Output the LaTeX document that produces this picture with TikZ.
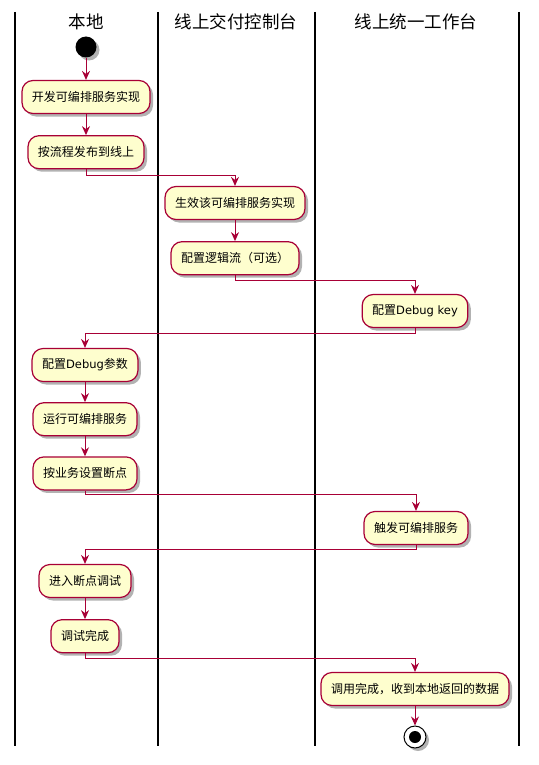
\documentclass[tikz,border=0pt]{standalone}
\usepackage{fontspec}
\setmainfont{Noto Sans CJK SC}
\newfontfamily\latfont{DejaVu Sans}
\usetikzlibrary{arrows.meta, positioning, shadows}
\definecolor{umlred}{HTML}{A80036}
\definecolor{umlyellow}{HTML}{FEFECE}

\begin{document}
\begin{tikzpicture}[x=1bp, y=-1bp,
    node distance = 21bp,
    act/.style = {draw=umlred,% border color
                  fill=umlyellow,
                  rounded corners=11bp, line width=1.2bp,
                  minimum height=33bp, inner xsep=10bp,
                  font=\fontsize{12bp}{14bp}\selectfont},
    lane/.style = {font=\fontsize{17.5bp}{20bp}\selectfont},
    flow/.style = {draw=umlred, line width=1bp,
                  -{Stealth[length=9bp,width=8bp,inset=3bp]}},
    ds/.style = {drop shadow={shadow xshift=3bp, shadow yshift=-3bp,
                  opacity=.3, fill=black}}]
%---
\useasboundingbox (0,0) rectangle (539,765);
% lanes
\foreach \x in {15,158,315,519}
    \draw[line width=2bp] (\x,12) -- (\x,746);
\node (h1) [lane] at (86,22)  {本地};
\node (h2) [lane] at (236,22) {线上交付控制台};
\node (h3) [lane] at (416,22) {线上统一工作台};
% start
\node (start) [circle, fill=black, minimum size=21bp, inner sep=0pt, ds] at (86,47) {};
% local
\node (n1) [act, ds] at (86,97)          {开发可编排服务实现};
\node (n2) [act, ds, below=of n1]        {按流程发布到线上};
% console
\node (n3) [act, ds] at (235,203)        {生效该可编排服务实现};
\node (n4) [act, ds, below=of n3]        {配置逻辑流（可选）};
% workbench
\node (n5) [act, ds] at (415,311)        {配置{\latfont\fontsize{11.5bp}{14bp}\selectfont Debug key}};
% local
\node (n6) [act, ds] at (85,365)         {配置{\latfont\fontsize{11.5bp}{14bp}\selectfont Debug}参数};
\node (n7) [act, ds, below=20bp of n6]   {运行可编排服务};
\node (n8) [act, ds, below=20bp of n7]   {按业务设置断点};
% workbench
\node (n9) [act, ds] at (416,528)        {触发可编排服务};
% local
\node (n10) [act, ds] at (85,581)        {进入断点调试};
\node (n11) [act, ds, below=of n10]      {调试完成};
% workbench
\node (n12) [act, ds] at (415,689)       {调用完成，收到本地返回的数据};
% end
\node (end) [circle, draw=black, fill=white, line width=1bp,
             minimum size=22bp, inner sep=0pt, ds] at (415,737) {};
\node (endin) [circle, fill=black, minimum size=12bp, inner sep=0pt] at (end) {};
% lines
\draw[flow] (start) -- (n1);
\draw[flow] (n1) -- (n2);
\draw[flow] (n2.south) -- ++(0,6) -| (n3.north);
\draw[flow] (n3) -- (n4);
\draw[flow] (n4.south) -- ++(0,5) -| (n5.north);
\draw[flow] (n5.south) -- ++(0,5) -| (n6.north);
\draw[flow] (n6) -- (n7);
\draw[flow] (n7) -- (n8);
\draw[flow] (n8.south) -- ++(0,4) -| (n9.north);
\draw[flow] (n9.south) -- ++(0,4) -| (n10.north);
\draw[flow] (n10) -- (n11);
\draw[flow] (n11.south) -- ++(0,5) -| (n12.north);
\draw[flow] (n12) -- (end);
\end{tikzpicture}
\end{document}
